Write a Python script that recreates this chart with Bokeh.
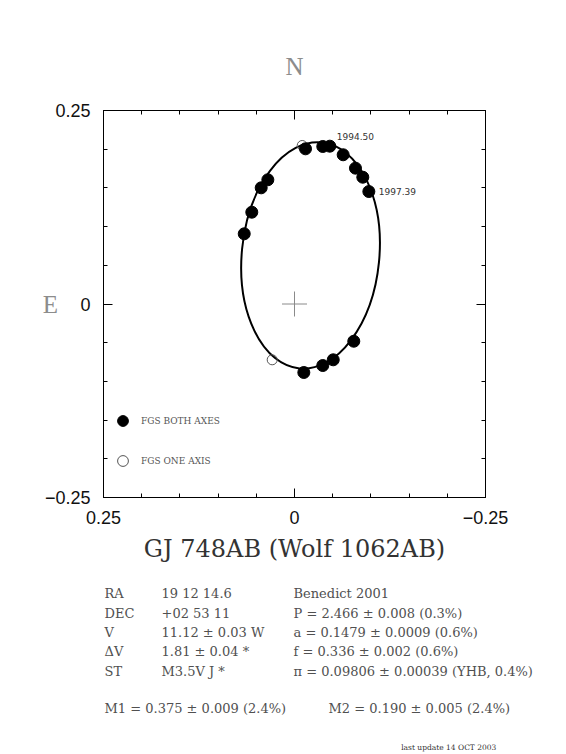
from bokeh.plotting import figure
from bokeh.layouts import column
from bokeh.models import Range1d, LinearAxis, FixedTicker, Legend, LegendItem
from bokeh.embed import file_html
from bokeh.resources import INLINE
from bokeh.core.properties import value

# ---------------- data ----------------
# FGS both axes (filled) relative positions, arcsec (x = East offset, axis reversed)
both_x = [-0.0144, -0.0370, -0.0462, -0.0637, -0.0798, -0.0894, -0.0973,
          0.0349, 0.0436, 0.0559, 0.0658,
          -0.0776, -0.0507, -0.0370, -0.0122]
both_y = [0.2005, 0.2035, 0.2039, 0.1928, 0.1755, 0.1638, 0.1453,
          0.1605, 0.1501, 0.1186, 0.0907,
          -0.0481, -0.0721, -0.0795, -0.0885]
# FGS one axis (open)
one_x = [-0.0101, 0.0292]
one_y = [0.2048, -0.0721]

# apparent orbit (ellipse)
orbit_cx = [-0.021]
orbit_cy = [0.0627]
orbit_w = [0.180]
orbit_h = [0.2935]
orbit_angle = [-5.6]

epoch_labels = ["1994.50", "1997.39"]
epoch_idx = [2, 6]

major_ticks = [-0.25, 0.0, 0.25]
minor_ticks = [-0.2, -0.15, -0.1, -0.05, 0.05, 0.1, 0.15, 0.2]
tick_text = {-0.25: "\u22120.25", 0.0: "0", 0.25: "0.25"}

star_name = "GJ 748AB (Wolf 1062AB)"
row_keys = ["RA", "DEC", "V", "\u0394V", "ST"]
row_vals = ["19 12 14.6", "+02 53 11", "11.12 \u00b1 0.03 W", "1.81 \u00b1 0.04 *", "M3.5V J *"]
row_refs = ["Benedict 2001", "P = 2.466 \u00b1 0.008 (0.3%)",
            "a = 0.1479 \u00b1 0.0009 (0.6%)", "f = 0.336 \u00b1 0.002 (0.6%)",
            "\u03c0 = 0.09806 \u00b1 0.00039 (YHB, 0.4%)"]
mass_texts = ["M1 = 0.375 \u00b1 0.009 (2.4%)", "M2 = 0.190 \u00b1 0.005 (2.4%)"]
update_text = "last update 14 OCT 2003"

# ---------------- main orbit figure ----------------
p = figure(frame_width=382, frame_height=387,
           x_range=Range1d(0.25, -0.25), y_range=Range1d(-0.25, 0.25),
           output_backend="svg", toolbar_location=None,
           x_axis_location=None, y_axis_location=None,
           min_border_left=103, min_border_right=73,
           min_border_top=110, min_border_bottom=68)
p.frame_align = False
p.xgrid.visible = False
p.ygrid.visible = False
p.outline_line_color = "black"
p.background_fill_color = "white"
p.border_fill_color = "white"


def make_axis(labels, title="", title_standoff=0, title_font="Liberation Serif",
              title_size="25px", title_color="#8c8c8c"):
    ax = LinearAxis(ticker=FixedTicker(ticks=major_ticks, minor_ticks=minor_ticks),
                    major_tick_in=9, major_tick_out=0,
                    minor_tick_in=4, minor_tick_out=0,
                    axis_line_color="black", major_tick_line_color="black",
                    minor_tick_line_color="black",
                    major_label_standoff=13,
                    major_label_text_font="Liberation Sans",
                    major_label_text_font_size="18px",
                    major_label_text_color="#111111",
                    major_label_overrides=dict(tick_text),
                    axis_label=title or None,
                    axis_label_standoff=title_standoff,
                    axis_label_text_font=title_font,
                    axis_label_text_font_size=title_size,
                    axis_label_text_font_style="normal",
                    axis_label_text_color=title_color,
                    axis_label_orientation="horizontal")
    if not labels:
        ax.major_label_text_color = None
        ax.major_label_text_font_size = "1px"
        ax.major_label_standoff = 0
    return ax


p.add_layout(make_axis(True, star_name, 8, "DejaVu Serif", "24px", "#333333"), "below")
p.add_layout(make_axis(True, "E", -16), "left")
p.add_layout(make_axis(False, "N", 31), "above")
p.add_layout(make_axis(False), "right")

# orbit
p.ellipse(x=orbit_cx, y=orbit_cy, width=orbit_w, height=orbit_h,
          angle=orbit_angle, angle_units="deg",
          fill_color=None, line_color="black", line_width=2)

# centre cross (primary)
p.scatter(x=[0.0], y=[0.0], marker="cross", size=25,
          line_color="#8a8a8a", line_width=1)

r_one = p.scatter(x=one_x, y=one_y, marker="circle", size=10,
                  fill_color="white", fill_alpha=0.0, line_color="#555555", line_width=1)
r_both = p.scatter(x=both_x, y=both_y, marker="circle", size=12,
                   fill_color="black", line_color="black")

p.text(x=[both_x[i] for i in epoch_idx], y=[both_y[i] for i in epoch_idx],
       text=epoch_labels, x_offset=[7, 10], y_offset=[-10, 0],
       text_font=value("DejaVu Sans"), text_font_size="9px",
       text_color="#333333", text_baseline="middle", text_align="left")

legend = Legend(items=[LegendItem(label="FGS BOTH AXES", renderers=[r_both]),
                       LegendItem(label="FGS ONE AXIS", renderers=[r_one])],
                location=(6, 23), orientation="vertical",
                border_line_color=None, background_fill_alpha=0.0,
                padding=0, margin=0, spacing=13,
                glyph_width=27, glyph_height=27, label_standoff=5,
                label_text_font="DejaVu Serif", label_text_font_size="9px",
                label_text_color="#555555")
p.add_layout(legend)

# ---------------- info table panel (pixel coordinates, y down) ----------------
W2, H2 = 558, 189
t = figure(width=W2, height=H2, x_range=Range1d(0, W2), y_range=Range1d(H2, 0),
           output_backend="svg", toolbar_location=None,
           x_axis_location=None, y_axis_location=None,
           min_border=0, min_border_left=0, min_border_right=0,
           min_border_top=0, min_border_bottom=0)
t.frame_align = False
t.xgrid.visible = False
t.ygrid.visible = False
t.outline_line_color = None
t.background_fill_color = "white"
t.border_fill_color = "white"

col_x = [104, 161, 293]
row_y0, row_dy = 28.3, 19.3
ys = [row_y0 + row_dy * i for i in range(len(row_keys))]
tbl_x = [col_x[0]] * len(row_keys) + [col_x[1]] * len(row_vals) + [col_x[2]] * len(row_refs)
tbl_y = ys * 3
tbl_t = row_keys + row_vals + row_refs
t.text(x=tbl_x, y=tbl_y, text=tbl_t,
       text_font=value("DejaVu Serif"), text_font_size="13px",
       text_color="#505050", text_baseline="middle", text_align="left")
t.text(x=[104, 328], y=[143.3, 143.3], text=mass_texts,
       text_font=value("DejaVu Serif"), text_font_size="13px",
       text_color="#505050", text_baseline="middle", text_align="left")
t.text(x=[400.7], y=[182], text=[update_text],
       text_font=value("DejaVu Serif"), text_font_size="7.5px",
       text_color="#333333", text_baseline="middle", text_align="left")

layout = column(p, t, spacing=0)
open("out.html", "w").write(file_html(layout, INLINE))
